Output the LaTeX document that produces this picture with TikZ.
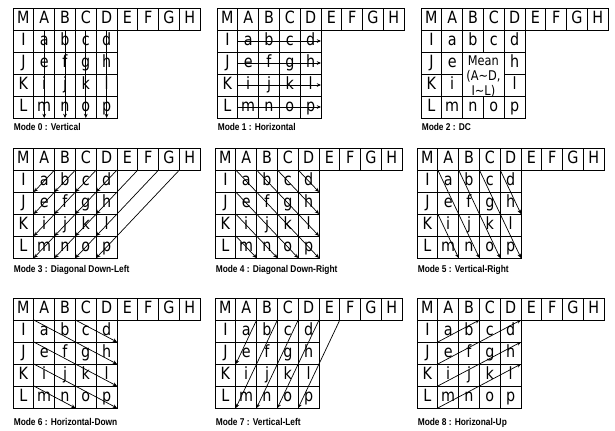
\documentclass[tikz,border=0pt]{standalone}
\usepackage{fontspec}
\usetikzlibrary{arrows.meta}
\newfontfamily\cellfont[FakeStretch=0.85]{DejaVu Sans}
\newfontfamily\capfont[FakeStretch=0.85]{Liberation Sans}

\newif\ifdcmode

\tikzset{
  cell/.style={draw, line width=0.7pt, inner sep=0pt, outer sep=0pt,
    minimum width=0.52cm, minimum height=0.55cm,
    text height=8.8pt, text depth=2.6pt,
    font=\cellfont\fontsize{12}{12}\selectfont},
  ray/.style={line width=0.5pt, -{Stealth[length=3pt,width=2.6pt]}},
  plainray/.style={line width=0.5pt},
  modecap/.style={anchor=base west, inner sep=0pt,
    font=\capfont\bfseries\fontsize{7}{8}\selectfont}
}

% one prediction panel: #1 name, #2,#3 top left corner, #4 caption drop, #5 caption
\newcommand{\predmode}[5]{%
  \begin{scope}[shift={(#2,#3)}]
    % neighbour samples above
    \foreach \ltr [count=\k from 0] in {M,A,B,C,D,E,F,G,H}
      \node[cell] (#1-\ltr) at (\k*20.8+10.4, 11) {\ltr};
    % neighbour samples at the left
    \foreach \ltr [count=\r from 1] in {I,J,K,L}
      \node[cell] (#1-\ltr) at (10.4, \r*22+11) {\ltr};
    % the 4x4 block
    \foreach \ltr [count=\k from 0] in {a,...,p}{
      \pgfmathtruncatemacro{\bcol}{mod(\k,4)+1}
      \pgfmathtruncatemacro{\brow}{div(\k,4)+1}
      \pgfmathtruncatemacro{\binner}{and(and(\bcol>1,\bcol<4),and(\brow>1,\brow<4))}
      \ifdcmode\ifnum\binner=1 \else
        \node[cell] (#1-\ltr) at (\bcol*20.8+10.4, \brow*22+11) {\ltr};
      \fi\else
        \node[cell] (#1-\ltr) at (\bcol*20.8+10.4, \brow*22+11) {\ltr};
      \fi}
    \node[modecap] (#1-cap) at (0.5, #4) {#5};
  \end{scope}}

\begin{document}
\begin{tikzpicture}[x=0.025cm, y=-0.025cm]
  \useasboundingbox (0,0) rectangle (615,430);

  % Mode 0 -- straight down
  \predmode{m0}{13}{8}{122.7}{Mode 0 : Vertical}
  \foreach \src/\dst in {a/m,b/n,c/o,d/p}
    \draw[ray] (m0-\src.north) -- (m0-\dst.south);

  % Mode 1 -- straight right
  \predmode{m1}{217}{8}{122.7}{Mode 1 : Horizontal}
  \foreach \src/\dst in {a/d,e/h,i/l,m/p}
    \draw[ray] (m1-\src.west) -- (m1-\dst.east);

  % Mode 2 -- inner four samples merged
  \dcmodetrue
  \predmode{m2}{421}{8}{122.7}{Mode 2 : DC}
  \dcmodefalse
  \path (m2-e.north east) -- (m2-l.south west)
    node[midway, cell, minimum width=1.04cm, minimum height=1.1cm] (m2-mean) {};
  \node[align=center, inner sep=0pt, font=\cellfont\fontsize{9.5}{10.4}\selectfont]
    (m2-meantext) at ([yshift=-0.06cm]m2-mean.center)
    {Mean\\(A\textasciitilde D,\\I\textasciitilde L)};

  % Mode 3 -- down and to the left, one tip per sample
  \predmode{m3}{13}{148}{124.7}{Mode 3 : Diagonal Down-Left}
  \draw[plainray] (m3-E.south east) -- (m3-d.south east);
  \draw[plainray] (m3-F.south east) -- (m3-h.south east);
  \draw[plainray] (m3-G.south east) -- (m3-l.south east);
  \foreach \ltr in {a,...,p}
    \draw[ray] (m3-\ltr.north east) -- (m3-\ltr.south west);

  % Mode 4 -- down and to the right
  \predmode{m4}{215}{148}{124.7}{Mode 4 : Diagonal Down-Right}
  \foreach \src/\dst in {a/p,b/l,c/h,d/d,e/o,i/n,m/m}
    \draw[ray] (m4-\src.north west) -- (m4-\dst.south east);

  % Mode 5 -- steep, to the right
  \predmode{m5}{417}{148}{124.7}{Mode 5 : Vertical-Right}
  \foreach \src/\dst in {a/n,b/o,c/p,d/h,i/m}
    \draw[ray] (m5-\src.north west) -- (m5-\dst.south east);

  % Mode 6 -- shallow, downwards
  \predmode{m6}{13}{298}{127}{Mode 6 : Horizontal-Down}
  \foreach \src/\dst in {a/h,c/d,e/l,i/p,m/n}
    \draw[ray] (m6-\src.north west) -- (m6-\dst.south east);

  % Mode 7 -- steep, to the left
  \predmode{m7}{215}{298}{127}{Mode 7 : Vertical-Left}
  \foreach \src/\dst in {a/e,b/m,c/n,d/o}
    \draw[ray] (m7-\src.north east) -- (m7-\dst.south west);
  \draw[ray] (m7-E.south east) -- (m7-p.south west);

  % Mode 8 -- shallow, upwards
  \predmode{m8}{417}{298}{127}{Mode 8 : Horizonal-Up}
  \draw[ray] (m8-a.south west) -- (m8-b.north east);
  \draw[ray] (m8-e.south west) -- (m8-d.north east);
  \draw[ray] (m8-i.south west) -- (m8-d.south east);
  \draw[ray] (m8-m.south west) -- (m8-h.south east);

\end{tikzpicture}
\end{document}
